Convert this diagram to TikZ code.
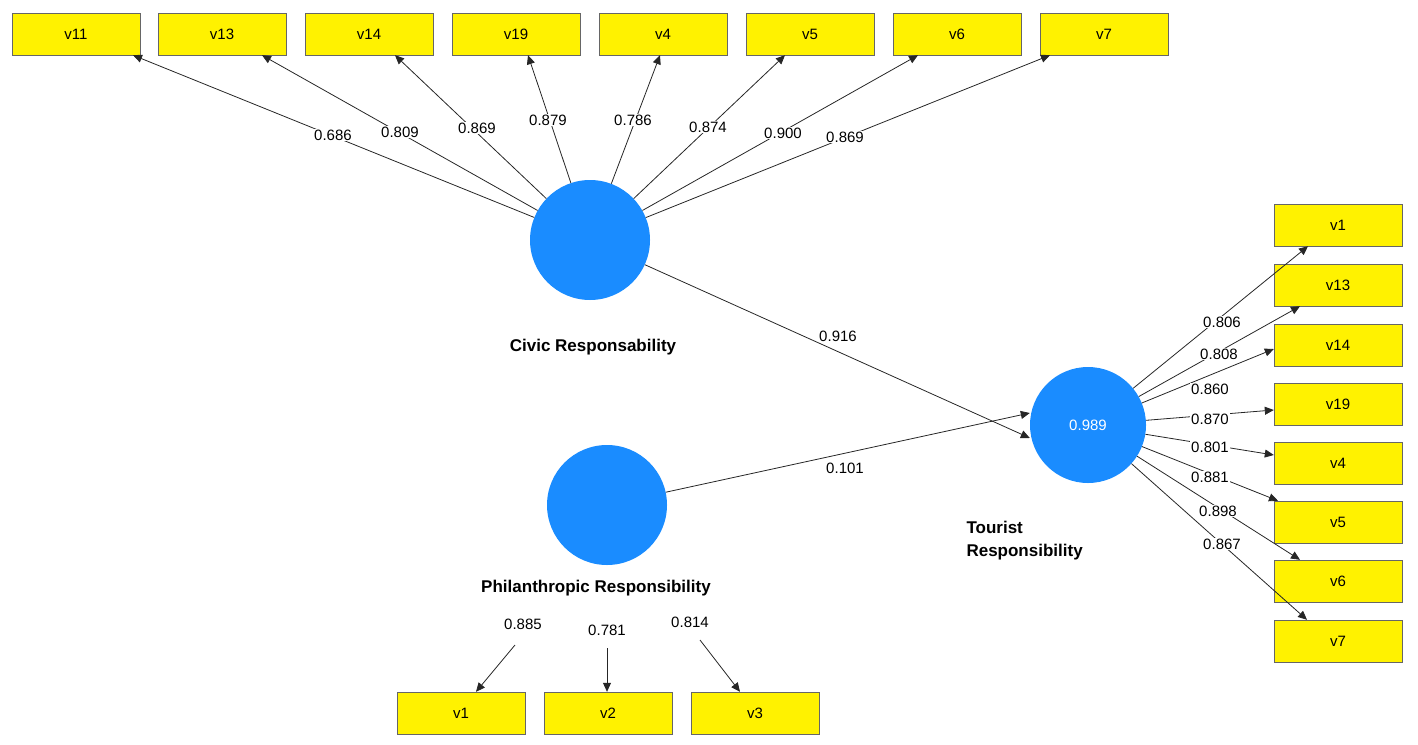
\documentclass[tikz,border=0pt]{standalone}
\usepackage{fontspec}
\setmainfont{Liberation Sans}
\usetikzlibrary{arrows.meta}
\begin{document}
\begin{tikzpicture}[x=1pt,y=-1pt,
 box/.style={draw=black!60,fill=yellow,minimum width=128pt,minimum height=42pt,inner sep=0pt,font=\fontsize{15}{18}\selectfont},
 lv/.style={circle,fill={rgb,255:red,26;green,140;blue,255},minimum size=120pt,inner sep=0pt},
 arr/.style={draw=black!85,line width=0.8pt,-{Triangle[length=9pt,width=8pt]}},
 lab/.style={fill=white,inner sep=1pt,font=\fontsize{15}{18}\selectfont},
 ttl/.style={font=\bfseries\fontsize{17}{21}\selectfont,align=left}]
\useasboundingbox (0,0) rectangle (1418,744);
% top boxes
\foreach \n/\x in {v11/76,v13/222,v14/369,v19/516,v4/663,v5/810,v6/957,v7/1104}
  \node[box] (t\n) at (\x,34) {\n};
\foreach \n/\y in {v1/225,v13/285,v14/345,v19/404,v4/463,v5/522,v6/581,v7/641}
  \node[box] (r\n) at (1338,\y) {\n};
\foreach \n/\x in {v1/461,v2/608,v3/755}
  \node[box] (b\n) at (\x,713) {\n};
\node[lv] (civ) at (590,240) {};
\node[lv,minimum size=116pt,text=white,font=\fontsize{15}{18}\selectfont] (tou) at (1088,425) {0.989};
\node[lv] (phi) at (607,505) {};
% top arrows
\foreach \n/\dx in {v11/57,v13/40,v14/26,v19/12,v4/-3,v5/-25,v6/-39,v7/-54}
  \draw[arr] (civ) -- ([xshift=\dx pt]t\n.south);
\foreach \v/\x/\y in {0.686/333/135,0.809/400/132,0.869/477/128,0.879/548/120,0.786/633/120,0.874/708/127,0.900/783/133,0.869/845/137}
  \node[lab] at (\x,\y) {\v};
% right arrows
\draw[arr] (tou) -- ([xshift=-30pt]rv1.south);
\draw[arr] (tou) -- ([xshift=-38pt]rv13.south);
\draw[arr] (tou) -- ([yshift=-4pt]rv14.west);
\draw[arr] (tou) -- ([yshift=-6pt]rv19.west);
\draw[arr] (tou) -- ([yshift=8pt]rv4.west);
\draw[arr] (tou) -- ([xshift=-60pt]rv5.north);
\draw[arr] (tou) -- ([xshift=-38pt]rv6.north);
\draw[arr] (tou) -- ([xshift=-31pt]rv7.north);
\foreach \v/\x/\y in {0.806/1222/322,0.808/1219/354,0.860/1210/389,0.870/1210/419,0.801/1210/447,0.881/1210/477,0.898/1218/511,0.867/1222/544}
  \node[lab] at (\x,\y) {\v};
% structural
\draw[arr] (civ) -- ([yshift=-13pt]tou.west);
\draw[arr] (phi) -- ([yshift=12pt]tou.west);
\node[lab] at (838,336) {0.916};
\node[lab] at (845,468) {0.101};
% titles
\node[ttl] at (593,347) {Civic Responsability};
\node[ttl,fill=white,inner sep=2pt] at (596,588) {Philanthropic Responsibility};
\node[ttl,anchor=west] at (963,541) {Tourist\\[2pt]Responsibility};
% bottom
\coordinate (p1) at (515,645);
\coordinate (p2) at (607,648);
\coordinate (p3) at (700,640);
\draw[arr] (p1) -- ([xshift=15pt]bv1.north);
\draw[arr] (p2) -- ([xshift=-1pt]bv2.north);
\draw[arr] (p3) -- ([xshift=-15pt]bv3.north);
\node[lab] at (523,624) {0.885};
\node[lab] at (607,630) {0.781};
\node[lab] at (690,622) {0.814};
\end{tikzpicture}
\end{document}
